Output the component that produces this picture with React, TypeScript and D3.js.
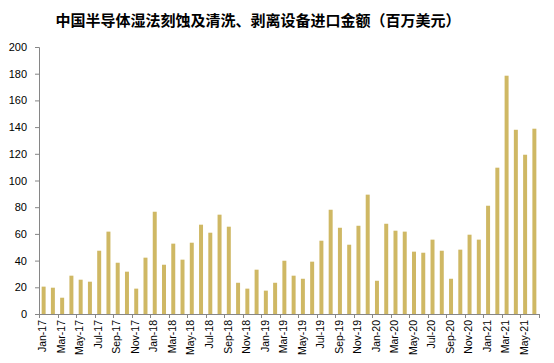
import React, { useEffect, useRef } from 'react'
import * as d3 from 'd3'

// 月份 Jan-17 .. Jun-21
const years = ['17', '18', '19', '20', '21']
const monthNames = ['Jan', 'Feb', 'Mar', 'Apr', 'May', 'Jun', 'Jul', 'Aug', 'Sep', 'Oct', 'Nov', 'Dec']

const values2017 = [20.5, 19.7, 12.2, 28.7, 25.7, 24.2, 47.4, 61.7, 38.4, 31.7, 19, 42.2]
const values2018 = [76.6, 36.9, 52.7, 40.7, 53.4, 66.9, 60.9, 74.4, 65.4, 23.4, 19, 33.2]
const values2019 = [17.5, 23.4, 39.9, 28.7, 26.4, 39.2, 54.9, 78.1, 64.6, 51.9, 66.1, 89.4]
const values2020 = [24.9, 67.6, 62.4, 61.7, 46.7, 45.9, 55.7, 47.4, 26.4, 48.2, 59.4, 55.7]
const values2021 = [81.1, 109.6, 178.5, 138, 119.3, 138.8]

const yTicks = [0, 20, 40, 60, 80, 100, 120, 140, 160, 180, 200]
const title = '中国半导体湿法刻蚀及清洗、剥离设备进口金额（百万美元）'

const values = [...values2017, ...values2018, ...values2019, ...values2020, ...values2021]
const months = values.map((_, i) => `${monthNames[i % 12]}-${years[Math.floor(i / 12)]}`)

export default function App() {
  const svgRef = useRef<SVGSVGElement>(null)

  useEffect(() => {
    const w = 554
    const h = 363
    const left = 39
    const right = 539
    const top = 47
    const bottom = 314

    const svg = d3.select(svgRef.current)
    svg.selectAll('*').remove()

    svg.append('rect').attr('width', w).attr('height', h).attr('fill', '#fff')

    svg.append('text')
      .attr('x', 258)
      .attr('y', 26)
      .attr('text-anchor', 'middle')
      .style('font-family', '"Noto Sans CJK SC", sans-serif')
      .style('font-weight', 'bold')
      .style('font-size', '15px')
      .attr('fill', '#000')
      .text(title)

    const x = d3.scaleBand().domain(months).range([left, right]).paddingInner(0.57).paddingOuter(0.285)
    const y = d3.scaleLinear().domain([0, 200]).range([bottom, top])

    // bars
    svg.append('g')
      .selectAll('rect')
      .data(values)
      .join('rect')
      .attr('x', (d, i) => x(months[i])!)
      .attr('width', x.bandwidth())
      .attr('y', d => y(d))
      .attr('height', d => y(0) - y(d))
      .attr('fill', '#CFB864')

    // y axis
    const yAxis = d3.axisLeft(y).tickValues(yTicks).tickSize(4).tickPadding(8)
    const gy = svg.append('g').attr('transform', `translate(${left},0)`).call(yAxis)
    gy.selectAll('path,line').attr('stroke', '#868686')
    gy.selectAll('text')
      .style('font-family', '"Liberation Sans", sans-serif')
      .style('font-size', '11px')
      .attr('fill', '#000')

    // x axis: ticks between every second category
    const step = (right - left) / months.length
    const tickPos = d3.range(0, months.length + 1, 2).map(k => left + k * step)
    const gx = svg.append('g')
    gx.append('line')
      .attr('x1', left).attr('x2', right)
      .attr('y1', bottom + 0.5).attr('y2', bottom + 0.5)
      .attr('stroke', '#868686')
    gx.selectAll('line.tick')
      .data(tickPos)
      .join('line')
      .attr('class', 'tick')
      .attr('x1', d => Math.round(d) + 0.5).attr('x2', d => Math.round(d) + 0.5)
      .attr('y1', bottom).attr('y2', bottom + 4)
      .attr('stroke', '#868686')

    const labelled = months.filter((_, i) => i % 2 === 0)
    gx.selectAll('text')
      .data(labelled)
      .join('text')
      .attr('transform', d => `translate(${x(d)! + x.bandwidth() / 2 - 1},${bottom + 6}) rotate(-90)`)
      .attr('text-anchor', 'end')
      .attr('dy', '0.35em')
      .style('font-family', '"Liberation Sans", sans-serif')
      .style('font-size', '10.5px')
      .attr('fill', '#000')
      .text(d => d)
  }, [])

  return (
    <svg
      ref={svgRef}
      width={554}
      height={363}
      style={{ position: 'absolute', left: 0, top: 0 }}
    />
  )
}
